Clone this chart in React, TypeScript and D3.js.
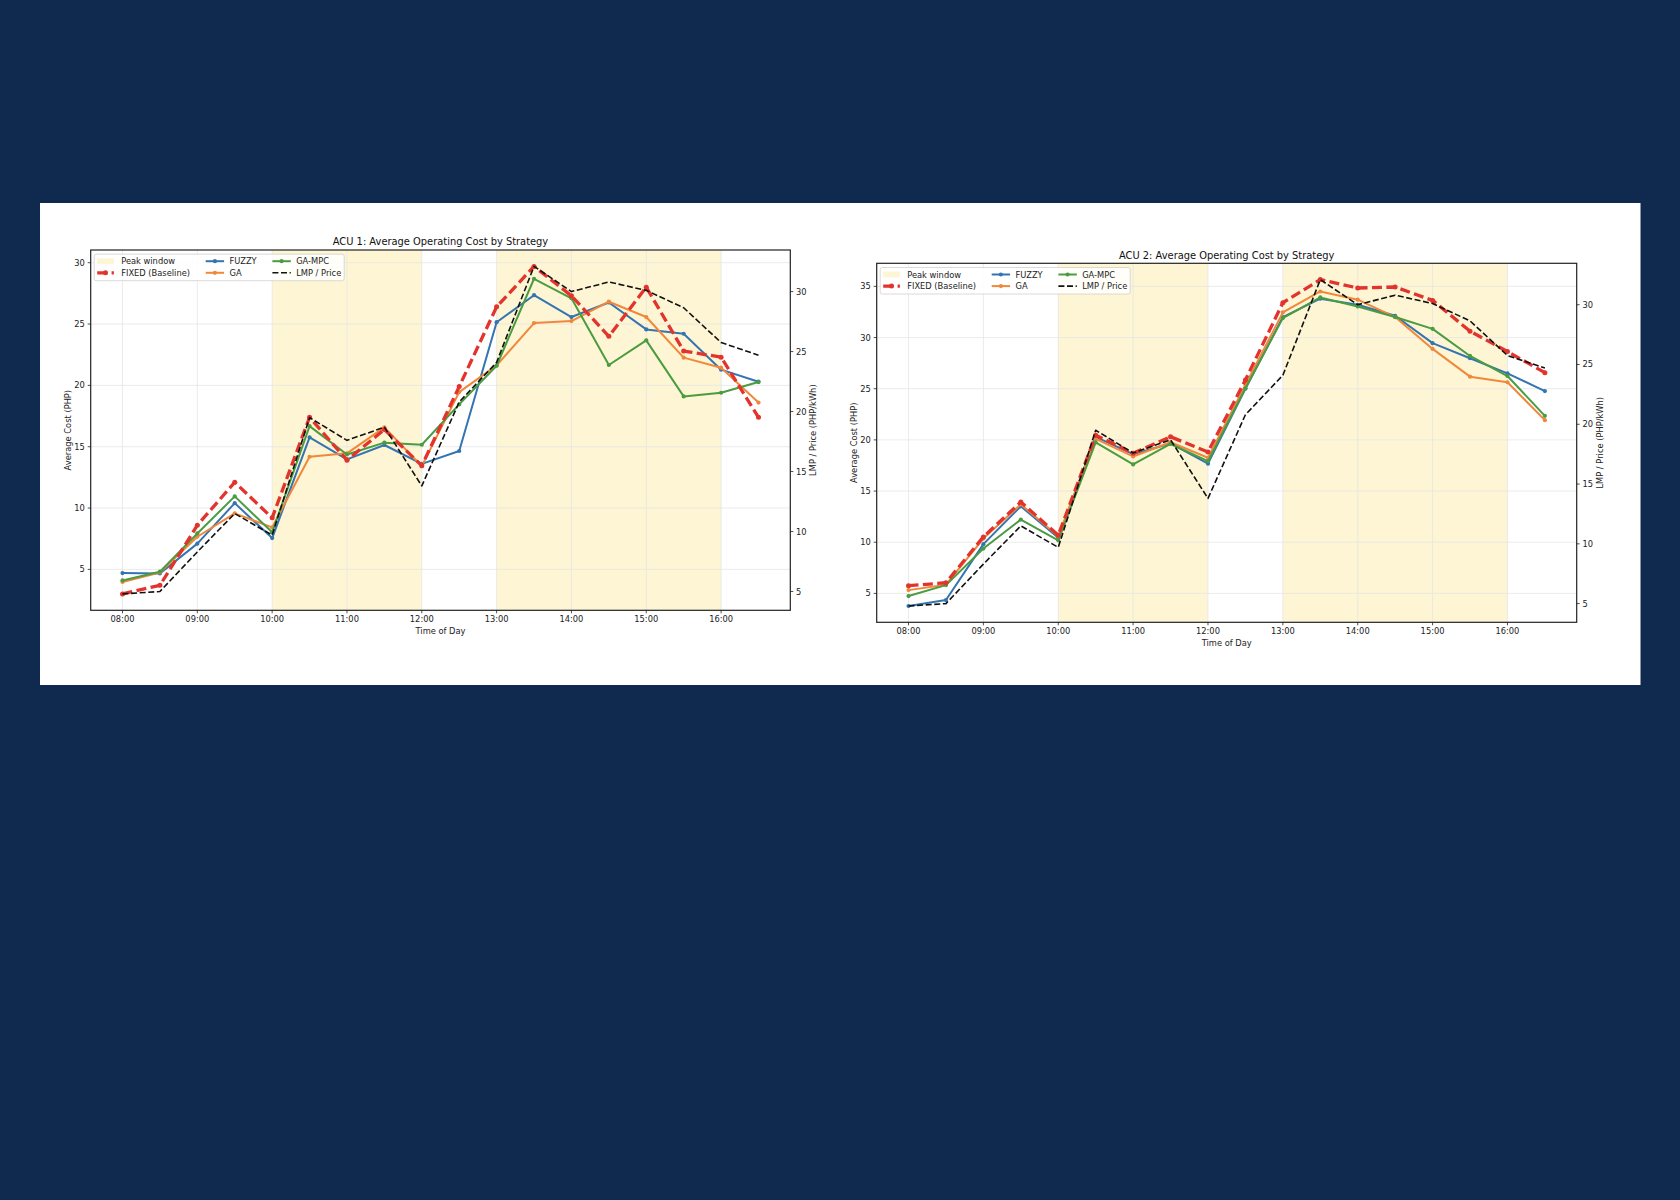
import * as d3 from 'd3'
import React from 'react'

// half-hour slots shared by both ACUs
const TIME_SLOTS = [
  '08:00', '08:30', '09:00', '09:30', '10:00', '10:30', '11:00', '11:30', '12:00',
  '12:30', '13:00', '13:30', '14:00', '14:30', '15:00', '15:30', '16:00', '16:30',
]
const HOUR_TICKS = [8, 9, 10, 11, 12, 13, 14, 15, 16]
const PEAK_WINDOWS: [number, number][] = [
  [10, 12],
  [13, 16],
]
const COST_TICKS_ACU1 = [5, 10, 15, 20, 25, 30]
const COST_TICKS_ACU2 = [5, 10, 15, 20, 25, 30, 35]
const PRICE_TICKS = [5, 10, 15, 20, 25, 30]

const LMP_PRICE = [4.8, 5.0, 8.3, 11.5, 9.7, 19.5, 17.6, 18.7, 13.8, 20.8, 24.1, 32.1, 30.0, 30.8, 30.1, 28.65, 25.75, 24.7]

const ACU1_FIXED = [3.0, 3.7, 8.6, 12.1, 9.2, 17.4, 13.9, 16.4, 13.45, 19.9, 26.4, 29.7, 27.3, 24.0, 28.0, 22.8, 22.3, 17.4]
const ACU1_FUZZY = [4.7, 4.67, 7.1, 10.4, 7.55, 15.76, 13.97, 15.14, 13.6, 14.65, 25.15, 27.35, 25.57, 26.76, 24.56, 24.21, 21.28, 20.3]
const ACU1_GA = [3.97, 4.75, 7.66, 9.57, 8.42, 14.18, 14.46, 16.58, 13.42, 19.45, 21.63, 25.08, 25.24, 26.82, 25.57, 22.26, 21.44, 18.6]
const ACU1_GA_MPC = [4.1, 4.81, 7.93, 10.95, 8.02, 16.68, 14.37, 15.33, 15.16, 18.45, 21.6, 28.69, 27.1, 21.66, 23.67, 19.1, 19.4, 20.27]

const ACU2_FIXED = [5.75, 6.04, 10.52, 13.93, 10.68, 20.46, 18.7, 20.3, 18.82, 25.85, 33.4, 35.66, 34.84, 34.94, 33.63, 30.62, 28.63, 26.57]
const ACU2_FUZZY = [3.77, 4.35, 9.81, 13.51, 10.45, 20.3, 18.6, 19.65, 17.68, 25.0, 32.0, 33.8, 33.2, 32.13, 29.45, 27.98, 26.5, 24.77]
const ACU2_GA = [5.32, 5.85, 10.36, 13.7, 10.58, 20.1, 18.38, 19.77, 18.25, 25.36, 32.45, 34.5, 33.7, 32.0, 28.89, 26.18, 25.63, 21.93]
const ACU2_GA_MPC = [4.74, 5.81, 9.38, 12.21, 10.19, 19.75, 17.6, 19.6, 17.92, 25.04, 31.9, 33.92, 33.04, 32.0, 30.85, 28.2, 26.24, 22.35]

const COLORS = {
  fixed: '#e2342d',
  fuzzy: '#3474b0',
  ga: '#f0883b',
  gampc: '#4a9c40',
  lmp: '#111111',
  peak: '#fdf5d3',
  grid: '#e6e6e6',
  navy: '#102a4f',
}

const FONT = '"DejaVu Sans", Verdana, sans-serif'

type Series = { fixed: number[]; fuzzy: number[]; ga: number[]; gampc: number[] }

type PanelProps = {
  title: string
  left: number
  top: number
  width: number
  height: number
  series: Series
  costTicks: number[]
}

const toHour = (t: string) => +t.slice(0, 2) + +t.slice(3) / 60
const hourLabel = (h: number) => `${String(h).padStart(2, '0')}:00`

// matplotlib-style 5% autoscale margin
const padded = (vals: number[]): [number, number] => {
  const [lo, hi] = d3.extent(vals) as [number, number]
  const m = (hi - lo) * 0.05
  return [lo - m, hi + m]
}

const Panel = ({ title, left, top, width, height, series, costTicks }: PanelProps) => {
  const hours = TIME_SLOTS.map(toHour)
  const right = left + width
  const bottom = top + height

  const x = d3.scaleLinear().domain(padded(hours)).range([left, right])
  const y = d3
    .scaleLinear()
    .domain(padded([...series.fixed, ...series.fuzzy, ...series.ga, ...series.gampc]))
    .range([bottom, top])
  const y2 = d3.scaleLinear().domain(padded(LMP_PRICE)).range([bottom, top])

  const costLine = d3
    .line<number>()
    .x((_, i) => x(hours[i]))
    .y((d) => y(d))
  const priceLine = d3
    .line<number>()
    .x((_, i) => x(hours[i]))
    .y((d) => y2(d))

  const strategies = [
    { key: 'fuzzy', values: series.fuzzy, color: COLORS.fuzzy },
    { key: 'ga', values: series.ga, color: COLORS.ga },
    { key: 'gampc', values: series.gampc, color: COLORS.gampc },
  ]

  const lgX = left + 3.5
  const lgY = top + 4.2
  const row1 = lgY + 7
  const row2 = lgY + 18.6
  const fs = 8.3

  return (
    <g fontFamily={FONT}>
      {PEAK_WINDOWS.map(([a, b]) => (
        <rect key={a} x={x(a)} y={top} width={x(b) - x(a)} height={height} fill={COLORS.peak} />
      ))}

      {HOUR_TICKS.map((h) => (
        <line key={h} x1={x(h)} x2={x(h)} y1={top} y2={bottom} stroke={COLORS.grid} strokeWidth={0.8} />
      ))}
      {costTicks.map((t) => (
        <line key={t} x1={left} x2={right} y1={y(t)} y2={y(t)} stroke={COLORS.grid} strokeWidth={0.8} />
      ))}

      {strategies.map((s) => (
        <g key={s.key}>
          <path d={costLine(s.values) ?? ''} fill="none" stroke={s.color} strokeWidth={2} strokeLinejoin="round" />
          {s.values.map((v, i) => (
            <circle key={i} cx={x(hours[i])} cy={y(v)} r={2.1} fill={s.color} />
          ))}
        </g>
      ))}

      <path
        d={costLine(series.fixed) ?? ''}
        fill="none"
        stroke={COLORS.fixed}
        strokeWidth={3.3}
        strokeDasharray="10 4.4"
        strokeLinejoin="round"
      />
      {series.fixed.map((v, i) => (
        <circle key={i} cx={x(hours[i])} cy={y(v)} r={2.5} fill={COLORS.fixed} />
      ))}

      <path
        d={priceLine(LMP_PRICE) ?? ''}
        fill="none"
        stroke={COLORS.lmp}
        strokeWidth={1.6}
        strokeDasharray="6 2.6"
        strokeLinejoin="round"
      />

      {/* spines */}
      <rect x={left} y={top} width={width} height={height} fill="none" stroke="#222" strokeWidth={1.2} />

      {/* bottom axis */}
      {HOUR_TICKS.map((h) => (
        <g key={h}>
          <line x1={x(h)} x2={x(h)} y1={bottom} y2={bottom + 3} stroke="#222" strokeWidth={0.8} />
          <text x={x(h)} y={bottom + 12} fontSize={fs} textAnchor="middle" fill="#222">
            {hourLabel(h)}
          </text>
        </g>
      ))}
      <text x={(left + right) / 2} y={bottom + 23.5} fontSize={fs} textAnchor="middle" fill="#222">
        Time of Day
      </text>

      {/* left axis */}
      {costTicks.map((t) => (
        <g key={t}>
          <line x1={left - 3} x2={left} y1={y(t)} y2={y(t)} stroke="#222" strokeWidth={0.8} />
          <text x={left - 5.8} y={y(t)} fontSize={fs} textAnchor="end" dominantBaseline="central" fill="#222">
            {t}
          </text>
        </g>
      ))}
      <text
        transform={`translate(${left - 23}, ${(top + bottom) / 2}) rotate(-90)`}
        fontSize={fs}
        textAnchor="middle"
        dominantBaseline="central"
        fill="#222"
      >
        Average Cost (PHP)
      </text>

      {/* right axis */}
      {PRICE_TICKS.map((t) => (
        <g key={t}>
          <line x1={right} x2={right + 3} y1={y2(t)} y2={y2(t)} stroke="#222" strokeWidth={0.8} />
          <text x={right + 5.8} y={y2(t)} fontSize={fs} dominantBaseline="central" fill="#222">
            {t}
          </text>
        </g>
      ))}
      <text
        transform={`translate(${right + 23}, ${(top + bottom) / 2}) rotate(-90)`}
        fontSize={fs}
        textAnchor="middle"
        dominantBaseline="central"
        fill="#222"
      >
        LMP / Price (PHP/kWh)
      </text>

      <text x={(left + right) / 2} y={top - 4.8} fontSize={9.9} textAnchor="middle" fill="#111">
        {title}
      </text>

      {/* legend */}
      <rect x={lgX} y={lgY} width={250} height={26.5} rx={2} fill="#fff" fillOpacity={0.85} stroke="#d0d0d0" strokeWidth={0.8} />
      <rect x={lgX + 3} y={row1 - 2.9} width={16.7} height={5.8} fill={COLORS.peak} />
      <text x={lgX + 27} y={row1} fontSize={fs} dominantBaseline="central" fill="#222">Peak window</text>

      <line x1={lgX + 3} x2={lgX + 19.7} y1={row2} y2={row2} stroke={COLORS.fixed} strokeWidth={3.3} strokeDasharray="10 4.4" />
      <circle cx={lgX + 11.3} cy={row2} r={2.5} fill={COLORS.fixed} />
      <text x={lgX + 27} y={row2} fontSize={fs} dominantBaseline="central" fill="#222">FIXED (Baseline)</text>

      {[
        { label: 'FUZZY', color: COLORS.fuzzy, cx: lgX + 111.5, cy: row1, tx: lgX + 135.3 },
        { label: 'GA', color: COLORS.ga, cx: lgX + 111.5, cy: row2, tx: lgX + 135.3 },
        { label: 'GA-MPC', color: COLORS.gampc, cx: lgX + 178.2, cy: row1, tx: lgX + 202 },
      ].map((item) => (
        <g key={item.label}>
          <line x1={item.cx} x2={item.cx + 18.4} y1={item.cy} y2={item.cy} stroke={item.color} strokeWidth={2} />
          <circle cx={item.cx + 9.2} cy={item.cy} r={2.1} fill={item.color} />
          <text x={item.tx} y={item.cy} fontSize={fs} dominantBaseline="central" fill="#222">
            {item.label}
          </text>
        </g>
      ))}
      <line x1={lgX + 178.2} x2={lgX + 196.6} y1={row2} y2={row2} stroke={COLORS.lmp} strokeWidth={1.6} strokeDasharray="6 2.6" />
      <text x={lgX + 202} y={row2} fontSize={fs} dominantBaseline="central" fill="#222">LMP / Price</text>
    </g>
  )
}

export default function App() {
  return (
    <svg
      width={1680}
      height={1200}
      style={{ position: 'absolute', left: 0, top: 0, display: 'block' }}
    >
      <rect x={0} y={0} width={1680} height={1200} fill={COLORS.navy} />
      <rect x={40} y={203} width={1600.5} height={482} fill="#fff" />
      <Panel
        title="ACU 1: Average Operating Cost by Strategy"
        left={90.7}
        top={250}
        width={699.6}
        height={360.3}
        series={{ fixed: ACU1_FIXED, fuzzy: ACU1_FUZZY, ga: ACU1_GA, gampc: ACU1_GA_MPC }}
        costTicks={COST_TICKS_ACU1}
      />
      <Panel
        title="ACU 2: Average Operating Cost by Strategy"
        left={876.7}
        top={263.3}
        width={700}
        height={359}
        series={{ fixed: ACU2_FIXED, fuzzy: ACU2_FUZZY, ga: ACU2_GA, gampc: ACU2_GA_MPC }}
        costTicks={COST_TICKS_ACU2}
      />
    </svg>
  )
}
